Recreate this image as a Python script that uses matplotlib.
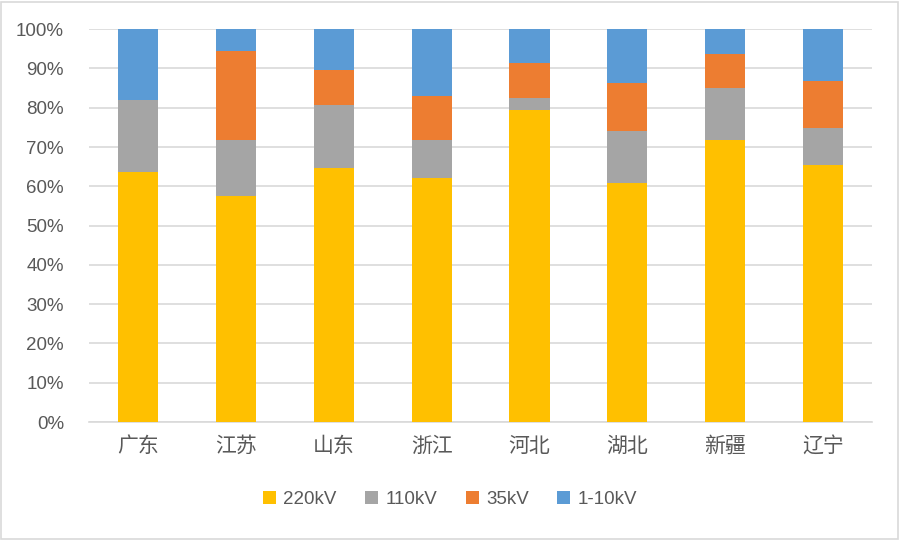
import numpy as np
import matplotlib
matplotlib.use('Agg')
import matplotlib.pyplot as plt
from matplotlib.patches import Rectangle

plt.rcParams['font.family'] = ['Noto Sans CJK SC', 'DejaVu Sans']

provinces = ['广东', '江苏', '山东', '浙江', '河北', '湖北', '新疆', '辽宁']
series_names = ['220kV', '110kV', '35kV', '1-10kV']
kv220 = [63.7, 57.6, 64.6, 62.2, 79.5, 60.9, 71.9, 65.5]
kv110 = [18.2, 14.3, 16.1, 9.7, 3.0, 13.1, 13.0, 9.4]
kv35 = [0.0, 22.5, 8.9, 11.2, 8.8, 12.4, 8.9, 11.9]
kv1_10 = [18.1, 5.6, 10.4, 16.9, 8.7, 13.6, 6.2, 13.2]
colors = ['#FFC000', '#A5A5A5', '#ED7D31', '#5B9BD5']

fig = plt.figure(figsize=(9, 5.4), dpi=100)
ax = fig.add_axes([0.099, 0.2185, 0.87, 0.7275])

x = np.arange(len(provinces))
bottom = np.zeros(len(provinces))
for name, vals, c in zip(series_names, [kv220, kv110, kv35, kv1_10], colors):
    vals = np.array(vals)
    ax.bar(x, vals, 0.41, bottom=bottom, color=c, label=name, zorder=3)
    bottom += vals

ax.set_xlim(-0.5, len(provinces) - 0.5)
ax.set_ylim(0, 100)
ax.set_yticks(np.arange(0, 101, 10))
ax.set_yticklabels([f'{v}%' for v in range(0, 101, 10)],
                   family=['Liberation Sans', 'DejaVu Sans'], fontsize=13.5, color='#595959')
ax.set_xticks(x)
ax.set_xticklabels(provinces, fontsize=15, color='#595959')
ax.tick_params(length=0)
ax.tick_params(axis='y', pad=18)
ax.tick_params(axis='x', pad=9)
ax.grid(axis='y', color='#d9d9d9', lw=1.2, zorder=0)
for s in ['top', 'right', 'left']:
    ax.spines[s].set_visible(False)
ax.spines['bottom'].set_color('#d9d9d9')
ax.spines['bottom'].set_linewidth(1.2)

leg = fig.legend(loc='center', bbox_to_anchor=(0.5, 0.075), ncol=4, frameon=False,
                 handlelength=0.7, handleheight=0.7, columnspacing=1.5, handletextpad=0.4,
                 prop={'family': ['Liberation Sans', 'DejaVu Sans'], 'size': 13.5})
for t in leg.get_texts():
    t.set_color('#595959')

fig.patches.append(Rectangle((0.001, 0.002), 0.997, 0.995, transform=fig.transFigure,
                             fill=False, edgecolor='#d9d9d9', lw=1.2))

fig.savefig('out.png', dpi=100)
